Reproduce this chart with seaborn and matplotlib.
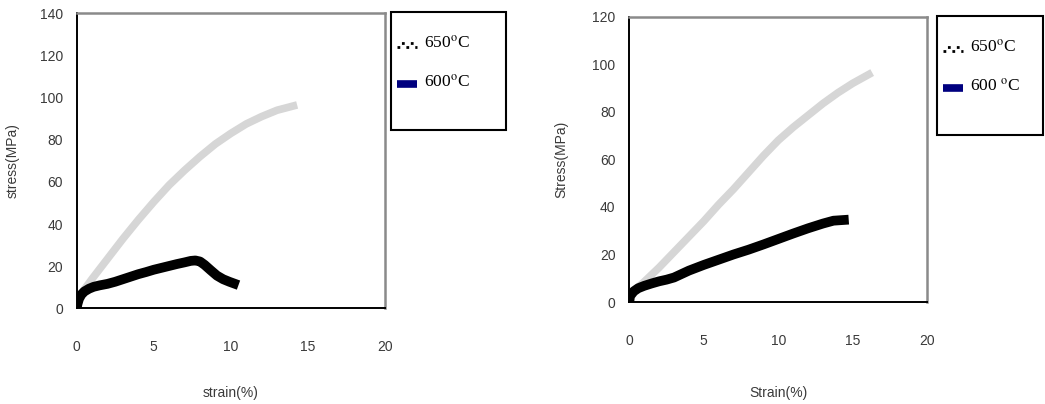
import matplotlib
matplotlib.use("Agg")
import matplotlib.pyplot as plt
from matplotlib.lines import Line2D
from matplotlib.patches import Rectangle
import seaborn as sns
import pandas as pd

# Tensile curves, strain (%) vs stress (MPa)
left_650_strain = [0, 0.5, 1, 2, 3, 4, 5, 6, 7, 8, 9, 10, 11, 12, 13, 14.3]
left_650_stress = [4, 9, 14, 23.5, 33, 42, 50.5, 58.5, 65.5, 72, 78, 83, 87.5, 91, 94, 96.5]
left_600_strain = [0, 0.05, 0.15, 0.3, 0.5, 0.8, 1.1, 1.5, 2, 2.5, 3, 3.5, 4, 4.5, 5,
                   5.5, 6, 6.5, 7, 7.4, 7.7, 8.0, 8.3, 8.7, 9.1, 9.5, 9.9, 10.2]
left_600_stress = [0, 2, 4.5, 6.5, 8, 9.3, 10.2, 10.9, 11.6, 12.6, 13.8, 15, 16.2, 17.2, 18.3,
                   19.2, 20.1, 21, 21.8, 22.5, 22.7, 22.2, 20.6, 18, 15.5, 13.8, 12.6, 11.8]

right_650_strain = [0, 1, 2, 3, 4, 5, 6, 7, 8, 9, 10, 11, 12, 13, 14, 15, 16.3]
right_650_stress = [3, 8.5, 14.5, 21, 27.5, 34, 41, 47.5, 54.5, 61.5, 68, 73.5, 78.5, 83.5, 88, 92, 96.5]
right_600_strain = [0, 0.05, 0.3, 0.6, 1, 1.5, 2, 2.5, 3, 4, 5, 6, 7, 8, 9, 10,
                    11, 12, 13, 13.7, 14.4]
right_600_stress = [0, 2.5, 4.5, 5.8, 6.8, 7.8, 8.7, 9.4, 10.3, 13.2, 15.6, 17.8, 20, 22, 24.2, 26.5,
                    28.8, 31, 33, 34.2, 34.5]

x_ticks = [0, 5, 10, 15, 20]
left_y_ticks = [0, 20, 40, 60, 80, 100, 120, 140]
right_y_ticks = [0, 20, 40, 60, 80, 100, 120]
legend_labels_left = ["650$^{\\mathrm{o}}$C", "600$^{\\mathrm{o}}$C"]
legend_labels_right = ["650$^{\\mathrm{o}}$C", "600 $^{\\mathrm{o}}$C"]

sns.set_style("white")
plt.rcParams["font.family"] = ["Liberation Sans", "DejaVu Sans"]
plt.rcParams["mathtext.fontset"] = "stix"

W, H = 1045, 404
fig = plt.figure(figsize=(W / 100, H / 100), dpi=100)

GREY_LINE = "#d6d6d6"
TEXT = "#3a3a3a"


def px_axes(x0, x1, y0, y1):
    return fig.add_axes([x0 / W, 1 - y0 / H, (x1 - x0) / W, (y0 - y1) / H])


def style_axes(ax, ymax, yticks, xlabel, ylabel, ylab_x, xlab_y):
    ax.set_xlim(0, 20)
    ax.set_ylim(0, ymax)
    ax.set_xticks(x_ticks)
    ax.set_yticks(yticks)
    for side in ("left", "bottom"):
        ax.spines[side].set_color("black")
        ax.spines[side].set_linewidth(1.4)
    for side in ("top", "right"):
        ax.spines[side].set_color("#8a8a8a")
        ax.spines[side].set_linewidth(1.8)
    ax.tick_params(axis="both", direction="out", length=6, width=1,
                   color="#444444", labelcolor=TEXT, labelsize=10)
    ax.tick_params(axis="y", pad=4)
    ax.tick_params(axis="x", pad=17)
    ax.set_xlabel(xlabel, fontsize=10, color=TEXT)
    ax.set_ylabel(ylabel, fontsize=10, color=TEXT)
    ax.yaxis.set_label_coords(ylab_x, 0.5)
    ax.xaxis.set_label_coords(0.5, xlab_y)
    ax.grid(False)


def draw_curves(ax, s650, t650, s600, t600):
    d650 = pd.DataFrame({"strain": s650, "stress": t650})
    d600 = pd.DataFrame({"strain": s600, "stress": t600})
    sns.lineplot(data=d650, x="strain", y="stress", ax=ax, sort=False,
                 color=GREY_LINE, linewidth=5.5, solid_capstyle="butt",
                 solid_joinstyle="round")
    sns.lineplot(data=d600, x="strain", y="stress", ax=ax, sort=False,
                 color="black", linewidth=7, solid_capstyle="projecting",
                 solid_joinstyle="round")


def draw_legend(box, labels):
    x0, y0, x1, y1 = box
    fig.patches.append(Rectangle((x0 / W, 1 - y1 / H), (x1 - x0) / W, (y1 - y0) / H,
                                 transform=fig.transFigure, fill=False,
                                 edgecolor="black", linewidth=1.5))
    hx0, hx1 = x0 + 6, x0 + 26
    rows = [y0 + 33, y0 + 72]
    # dotted handle: two offset rows of small squares
    r = rows[0]
    fig.add_artist(Line2D([hx0 / W, hx1 / W], [1 - (r - 1.8) / H] * 2,
                          transform=fig.transFigure, color="black",
                          linewidth=2.0, linestyle=(1.6, (1.0, 2.2))))
    fig.add_artist(Line2D([hx0 / W, hx1 / W], [1 - (r + 1.8) / H] * 2,
                          transform=fig.transFigure, color="black",
                          linewidth=2.0, linestyle=(0, (1.0, 2.2))))
    r = rows[1]
    fig.add_artist(Line2D([hx0 / W, hx1 / W], [1 - r / H] * 2,
                          transform=fig.transFigure, color="#00007f",
                          linewidth=5.5, solid_capstyle="butt"))
    for lab, r in zip(labels, rows):
        fig.text((x0 + 33) / W, 1 - (r - 2) / H, lab, fontsize=12.5,
                 family=["Liberation Serif", "DejaVu Serif"],
                 va="center", ha="left", color="black")


ax1 = px_axes(76.7, 385, 308.3, 13.3)
draw_curves(ax1, left_650_strain, left_650_stress, left_600_strain, left_600_stress)
style_axes(ax1, 140, left_y_ticks, "strain(%)", "stress(MPa)", -0.184, -0.265)

ax2 = px_axes(629.3, 927.3, 302, 16.7)
draw_curves(ax2, right_650_strain, right_650_stress, right_600_strain, right_600_stress)
style_axes(ax2, 120, right_y_ticks, "Strain(%)", "Stress(MPa)", -0.206, -0.296)

draw_legend((391, 12, 506, 130), legend_labels_left)
draw_legend((937, 16, 1043, 135), legend_labels_right)

fig.savefig("out.png", dpi=100)
